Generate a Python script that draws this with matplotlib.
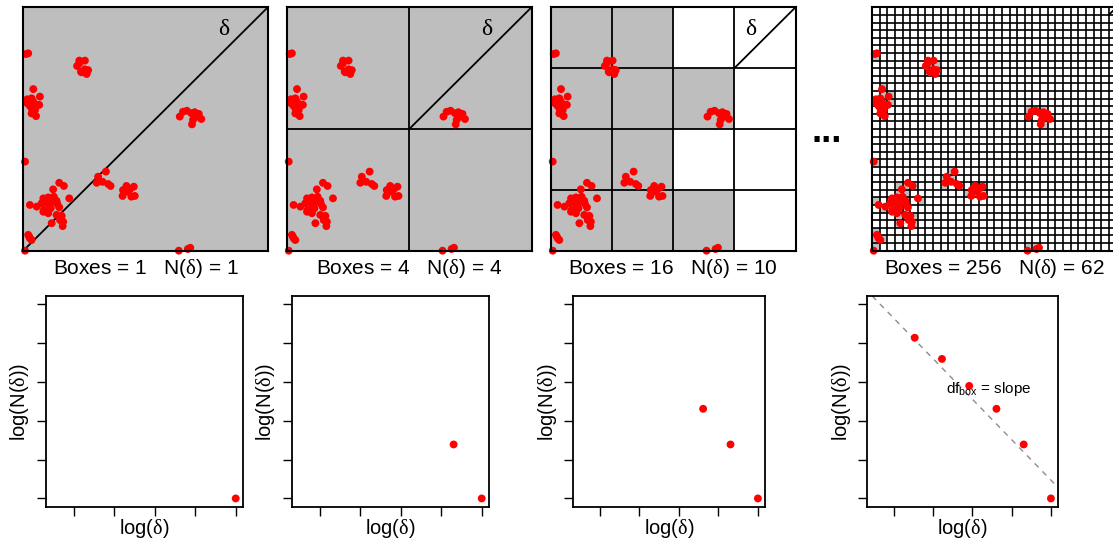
import numpy as np
import matplotlib
matplotlib.use("Agg")
import matplotlib.pyplot as plt
from matplotlib.colors import ListedColormap

plt.rcParams["font.family"] = ["Liberation Sans", "DejaVu Sans"]
plt.rcParams["mathtext.fontset"] = "custom"
plt.rcParams["mathtext.rm"] = "Liberation Sans"
plt.rcParams["mathtext.it"] = "Liberation Serif"

# point pattern in the unit square
pts_x = [0.011, 0.020,
         0.229, 0.252, 0.220, 0.236, 0.252, 0.265, 0.259, 0.238, 0.229,
         0.041, 0.068, 0.016, 0.034, 0.041, 0.020, 0.054, 0.065, 0.034, 0.048, 0.034, 0.052, 0.014, 0.027,
         0.007,
         0.147, 0.166, 0.122, 0.125, 0.102, 0.082, 0.116, 0.136, 0.093, 0.106, 0.075, 0.139, 0.027, 0.055,
         0.084, 0.112, 0.082, 0.102, 0.136, 0.157, 0.150, 0.163, 0.161, 0.116, 0.188, 0.147,
         0.020, 0.027, 0.034, 0.024,
         0.007,
         0.338, 0.306, 0.300, 0.324, 0.347, 0.357,
         0.422, 0.408, 0.406, 0.436, 0.452, 0.456, 0.442, 0.429,
         0.640, 0.653, 0.669, 0.687, 0.701, 0.718, 0.728, 0.694, 0.690, 0.710,
         0.636, 0.673, 0.683]
pts_y = [0.808, 0.811,
         0.781, 0.781, 0.759, 0.736, 0.745, 0.742, 0.726, 0.733, 0.770,
         0.664, 0.633, 0.622, 0.626, 0.612, 0.603, 0.599, 0.599, 0.585, 0.578, 0.564, 0.553, 0.608, 0.595,
         0.366,
         0.279, 0.266, 0.252, 0.222, 0.219, 0.215, 0.201, 0.205, 0.197, 0.188, 0.195, 0.192, 0.188, 0.181,
         0.167, 0.174, 0.160, 0.154, 0.147, 0.143, 0.126, 0.119, 0.101, 0.113, 0.215, 0.178,
         0.065, 0.051, 0.044, 0.058,
         0.000,
         0.325, 0.304, 0.279, 0.283, 0.274, 0.266,
         0.266, 0.249, 0.225, 0.252, 0.263, 0.225, 0.222, 0.242,
         0.551, 0.571, 0.575, 0.565, 0.569, 0.562, 0.541, 0.537, 0.519, 0.551,
         0.000, 0.007, 0.012]

grid_n = [1, 2, 4, 32]
boxes_label = [1, 4, 16, 256]
n_label = [1, 4, 10, 62]

# box-counting results
delta = [1, 1/2, 1/4, 1/8, 1/16, 1/32]
n_boxes = [1, 4, 10, 18, 36, 62]
n_shown = [1, 2, 3, 6]
fit_slope = -1.04
fit_intercept = 0.47

W, H = 1113, 545
fig = plt.figure(figsize=(W / 100, H / 100), dpi=100)

top_left = [23.3, 287, 551, 872]
top_w, top_top, top_h = 244.5, 7.3, 243.4
bot_left = [46, 292, 573, 867]
bot_w = [197, 197, 192, 191]
bot_top, bot_h = 296, 211

px = np.array(pts_x)
py = np.array(pts_y)
log_d = np.log(delta)
log_n = np.log(n_boxes)

for i in range(4):
    n = grid_n[i]
    ax = fig.add_axes([top_left[i] / W, (H - top_top - top_h) / H, top_w / W, top_h / H])
    occ = np.zeros((n, n))
    cx = np.clip((px * n).astype(int), 0, n - 1)
    cy = np.clip((py * n).astype(int), 0, n - 1)
    occ[cy, cx] = 1
    edges = np.linspace(0, 1, n + 1)
    ax.pcolormesh(edges, edges, occ, cmap=ListedColormap(["white", "#BEBEBE"]), vmin=0, vmax=1)
    for e in edges[1:-1]:
        ax.axhline(e, color="black", lw=1.3 if n < 32 else 1.2, zorder=2)
        ax.axvline(e, color="black", lw=1.3 if n < 32 else 1.2, zorder=2)
    # diagonal of the top-right box
    ax.plot([1 - 1 / n, 1], [1 - 1 / n, 1], color="black", lw=1.3, zorder=2)
    if n < 32:
        ax.text(0.82, 0.91, r"$\delta$", fontsize=17, ha="center", va="center")
    ax.scatter(px, py, s=32, color="red", edgecolors="none", zorder=4, clip_on=False)
    ax.set_xlim(0, 1)
    ax.set_ylim(0, 1)
    ax.set_xticks([])
    ax.set_yticks([])
    for sp in ax.spines.values():
        sp.set_linewidth(1.5)
        sp.set_zorder(5)
    ax.text(0.5, -0.074, r"Boxes = %d   N($\delta$) = %d" % (boxes_label[i], n_label[i]),
            transform=ax.transAxes, ha="center", va="center", fontsize=15)

    bx = fig.add_axes([bot_left[i] / W, (H - bot_top - bot_h) / H, bot_w[i] / W, bot_h / H])
    k = n_shown[i]
    bx.scatter(log_d[:k], log_n[:k], s=32, color="red", edgecolors="none", zorder=3)
    if k == len(delta):
        bx.axline((0, fit_intercept), slope=fit_slope, color="#8C8C8C", lw=1,
                  linestyle=(0, (4, 4)), zorder=2)
        bx.text(-1.59, 2.81, r"df$_{\mathrm{box}}$ = slope", fontsize=11, ha="center", va="center")
    bx.set_xlim(-4.68, 0.18)
    bx.set_ylim(-0.22, 5.2)
    bx.set_xticks([-4, -3, -2, -1, 0])
    bx.set_yticks([0, 1, 2, 3, 4, 5])
    bx.tick_params(direction="out", length=6.5, width=1, labelbottom=False, labelleft=False)
    for sp in bx.spines.values():
        sp.set_linewidth(1.3)
    bx.text(0.5, -0.104, r"log($\delta$)", transform=bx.transAxes, ha="center", va="center",
            fontsize=14.5)
    bx.text(-0.132, 0.5, r"log(N($\delta$))", transform=bx.transAxes, ha="center", va="center",
            rotation=90, fontsize=14.5)

fig.text(827 / W, (H - 132) / H, "...", ha="center", va="center", fontsize=26, fontweight="bold")

fig.savefig("out.png", dpi=100)
